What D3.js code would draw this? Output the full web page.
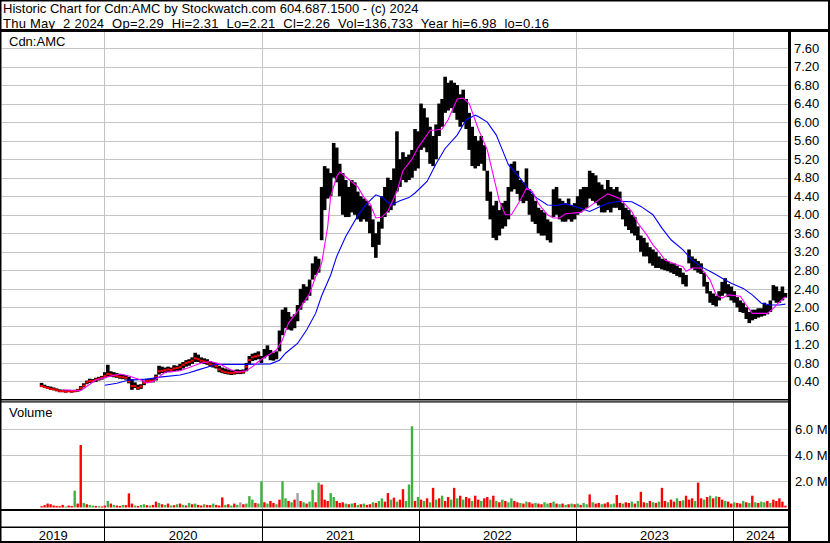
<!DOCTYPE html>
<html><head><meta charset="utf-8">
<script src="https://cdn.jsdelivr.net/npm/d3@7"></script>
<style>
html,body{margin:0;padding:0;background:#fff}
svg{display:block}
text{font-family:"Liberation Sans",Arial,sans-serif;font-size:13px;fill:#000}
</style></head><body>
<svg id="c" width="830" height="543"></svg>
<script>
// ---------- data ----------
const title1 = "Historic Chart for Cdn:AMC by Stockwatch.com 604.687.1500 - (c) 2024";
const title2 = "Thu May  2 2024  Op=2.29  Hi=2.31  Lo=2.21  Cl=2.26  Vol=136,733  Year hi=6.98  lo=0.16";
const symbolLabel = "Cdn:AMC";
const volumeLabel = "Volume";
const firstWeek = new Date(2019, 7, 8);   // one entry per week from here
const weekHigh = [
 0.37,0.33,0.30,0.29,0.27,0.25,0.23,0.22,0.21,0.22,0.21,0.22,0.24,0.30,0.36,0.42,0.46,0.45,0.48,0.50,0.52,
 0.60,0.76,0.62,0.60,0.58,0.56,0.55,0.54,0.50,0.45,0.38,0.33,0.34,0.42,0.46,0.45,0.47,0.55,0.74,0.72,0.70,0.72,0.70,0.75,0.74,0.78,0.82,0.86,0.88,0.92,1.02,0.98,0.92,0.90,0.88,0.84,0.82,0.80,0.74,0.70,0.68,0.66,0.64,0.65,0.66,0.65,0.66,0.80,0.95,1.00,1.02,1.05,
 0.95,1.10,1.18,1.08,1.02,1.05,1.50,1.95,2.00,1.90,1.80,1.85,2.05,2.40,2.50,2.45,2.60,2.95,3.10,3.05,4.60,5.05,5.00,4.90,5.55,5.45,5.10,4.90,4.75,4.60,4.75,4.70,4.50,4.40,4.35,4.30,4.20,3.90,3.60,3.85,4.40,4.60,4.80,4.75,5.00,5.80,5.20,5.35,5.25,5.30,5.40,5.85,
 5.80,6.40,6.30,6.10,5.90,5.70,5.95,6.40,6.50,6.98,6.85,6.90,6.85,6.80,6.60,6.70,6.50,6.20,5.90,5.70,5.60,5.70,5.50,4.95,4.50,4.20,4.30,4.10,4.25,4.30,4.60,5.10,5.15,4.95,4.75,4.70,5.00,4.55,4.45,4.30,4.15,4.10,4.05,3.90,3.85,4.55,4.60,4.35,4.30,4.25,4.35,4.20,
 4.25,4.40,4.55,4.60,4.60,4.95,4.90,4.85,4.70,4.65,4.55,4.75,4.60,4.55,4.60,4.50,4.25,4.15,4.10,4.00,3.95,3.75,3.55,3.50,3.40,3.30,3.25,3.20,3.10,3.05,3.05,3.00,2.95,2.95,2.90,2.85,2.75,2.70,3.25,3.10,3.05,3.00,2.95,2.75,2.55,2.35,2.30,2.25,2.35,2.55,2.63,2.50,
 2.45,2.35,2.22,2.15,2.10,2.00,1.90,1.95,1.95,1.98,1.98,2.10,2.05,2.15,2.48,2.45,2.35,2.45,2.31
];
const weekLow = [
 0.28,0.26,0.24,0.22,0.21,0.19,0.17,0.17,0.16,0.17,0.16,0.17,0.18,0.22,0.27,0.34,0.37,0.38,0.39,0.42,0.44,
 0.47,0.50,0.50,0.49,0.48,0.46,0.45,0.44,0.36,0.22,0.26,0.22,0.24,0.32,0.37,0.38,0.38,0.42,0.55,0.58,0.58,0.60,0.60,0.62,0.63,0.64,0.68,0.72,0.74,0.78,0.82,0.82,0.80,0.78,0.76,0.72,0.70,0.68,0.60,0.58,0.56,0.55,0.54,0.55,0.56,0.56,0.57,0.62,0.78,0.84,0.86,0.88,
 0.80,0.90,0.95,0.86,0.85,0.88,1.05,1.40,1.55,1.52,1.50,1.55,1.70,1.95,2.10,2.15,2.25,2.60,2.70,2.75,3.45,4.10,4.35,4.40,4.80,4.70,4.40,4.00,3.95,3.95,4.05,4.00,3.90,3.85,3.90,3.85,3.60,3.30,3.07,3.35,3.70,3.95,4.05,4.10,4.20,4.50,4.60,4.75,4.70,4.75,4.80,4.95,
 5.00,5.40,5.45,5.35,5.10,5.05,5.20,5.70,5.90,6.20,6.25,6.30,6.20,6.05,5.90,6.00,5.85,5.40,5.05,5.00,5.05,5.10,4.95,4.30,3.90,3.50,3.45,3.55,3.70,3.75,3.90,4.50,4.55,4.45,4.30,4.25,4.30,4.00,3.85,3.80,3.60,3.55,3.55,3.45,3.40,3.95,4.00,3.90,3.85,3.85,3.90,3.85,
 3.90,4.00,4.05,4.10,4.15,4.35,4.30,4.25,4.20,4.05,4.05,4.10,4.05,4.15,4.15,4.10,3.90,3.75,3.67,3.60,3.55,3.45,3.20,3.10,3.10,2.95,2.90,2.85,2.85,2.82,2.80,2.78,2.75,2.72,2.68,2.65,2.50,2.45,2.95,2.85,2.80,2.75,2.72,2.45,2.30,2.10,2.05,2.02,2.15,2.25,2.30,2.22,
 2.15,2.10,2.00,1.90,1.88,1.75,1.66,1.72,1.75,1.78,1.80,1.82,1.85,1.90,2.15,2.10,2.10,2.15,2.21
];
// closing levels marked in red for the low-priced 2019-2020 stretch (weeks 0..72)
const weekCloseEarly = [
 0.30,0.28,0.26,0.24,0.23,0.21,0.19,0.19,0.18,0.19,0.18,0.19,0.21,0.26,0.31,0.38,0.41,0.41,0.44,0.46,0.48,
 0.52,0.56,0.55,0.53,0.52,0.50,0.49,0.48,0.40,0.30,0.30,0.26,0.29,0.37,0.41,0.41,0.42,0.50,0.62,0.63,0.64,0.66,0.65,0.68,0.69,0.71,0.76,0.80,0.82,0.85,0.90,0.88,0.85,0.83,0.81,0.77,0.75,0.73,0.66,0.62,0.60,0.59,0.58,0.59,0.60,0.60,0.61,0.72,0.86,0.92,0.94,0.96
];
// volume in thousands of shares, colour r = down, g = up, x = unchanged
const weekVolume = [
 100,180,300,250,150,120,100,200,80,150,120,1280,300,4770,350,250,200,150,120,100,80,
 150,500,300,200,150,120,200,180,1080,300,150,120,200,250,180,150,200,450,350,250,200,300,150,180,250,300,200,150,350,250,300,200,150,250,200,180,300,200,150,770,200,250,150,300,200,400,250,300,870,600,350,300,
 2000,400,300,500,350,250,600,2000,700,500,400,600,1100,500,400,300,450,1350,400,1900,1750,600,500,1100,800,500,350,400,300,250,300,350,200,250,300,200,250,400,350,500,700,450,1100,600,750,450,600,1400,500,1750,6200,500,
 800,600,500,700,400,1500,600,700,900,500,800,600,1500,700,900,600,800,700,500,900,600,500,700,800,600,900,500,400,600,500,400,700,500,400,350,300,450,400,300,350,300,250,400,300,350,450,300,250,300,200,250,300,
 250,300,200,350,250,1000,400,300,350,250,300,400,250,300,950,350,300,400,350,450,300,500,1200,400,350,500,400,350,450,1500,500,400,600,450,700,500,550,900,600,700,500,1900,700,600,800,900,700,850,800,600,500,450,
 300,400,350,300,500,400,350,900,400,350,450,400,500,350,600,500,700,450,140
];
const weekVolColor =
 "rrrrrrrrgrrgrrgrggrgr" +
 "rgrgrrgrrrgrggrgrrgrgrgrgrgrgrgrrgrrgrrrgrgrgxrgggrg" +
 "grgrrgrggrgrxrgrggrgrrrggrrrgrgrgrgrrgrggrrgrgrrgggr" +
 "grgrgrgrgrrgrgrgrrgrrgrrgrgrgrggrrgrgrrgrrggrgrgr" + "gr" +
 "grgrggrgrrgrrggrrgrrgrgrrgrgrgrrgrrgrgrrrgrrgrgr" + "gr" +
 "rgrrgrrgrgrgrggrgrr";
// short moving average (magenta): week index -> value
const maFastWeek = [7,13,18,22,26,29,33,35,37,39,41,46,49,53,56,59,62,65,68,70,73,76,78,80,82,86,89,91,93,95,96,98,99,101,105,107,109,111,113,115,118,120,123,125,129,131,133,135,138,140,142,145,148,150,152,154,156,159,161,163,165,168,170,172,174,179,182,185,188,192,194,196,198,201,203,205,207,211,213,214,216,219,222,224,226,228,232,234,236,241,243,245,247];
const maFastVal  = [0.22,0.20,0.43,0.50,0.56,0.52,0.43,0.37,0.40,0.50,0.60,0.63,0.70,0.80,0.83,0.78,0.68,0.60,0.63,0.72,0.88,1.00,1.08,1.30,1.66,2.00,2.30,2.66,2.95,3.74,4.40,4.82,4.92,4.82,4.60,4.38,4.24,3.93,3.95,4.08,4.50,4.95,5.20,5.45,5.82,5.83,5.85,6.05,6.50,6.52,6.40,5.85,5.40,4.85,4.30,4.00,4.00,4.32,4.57,4.50,4.24,4.00,3.93,3.93,4.02,4.05,4.18,4.32,4.45,4.35,4.21,4.07,3.82,3.56,3.35,3.20,3.02,2.92,2.88,2.78,2.85,2.85,2.59,2.27,2.20,2.27,2.24,2.05,1.87,1.87,1.98,2.12,2.23];
// long moving average (blue): week index -> value
const maSlowWeek = [21,25,29,35,40,46,49,52,56,58,68,76,79,81,85,88,91,93,96,98,101,105,108,111,113,116,119,122,124,128,131,134,138,141,144,145,148,151,153,155,158,161,164,168,171,174,179,182,185,188,192,196,199,203,206,209,213,216,219,223,226,229,233,236,239,242,245,247];
const maSlowVal  = [0.32,0.36,0.43,0.45,0.50,0.54,0.59,0.65,0.73,0.77,0.77,0.78,0.86,1.01,1.22,1.51,1.87,2.25,2.70,3.10,3.53,3.98,4.24,4.43,4.38,4.21,4.30,4.37,4.47,4.72,5.10,5.43,5.72,6.05,6.15,6.12,6.00,5.72,5.40,5.08,4.86,4.61,4.38,4.21,4.20,4.24,4.14,4.07,4.16,4.25,4.29,4.28,4.18,4.00,3.71,3.46,3.24,3.02,2.88,2.74,2.63,2.52,2.41,2.27,2.09,2.05,2.05,2.07];
const priceTicks = [0.4,0.8,1.2,1.6,2.0,2.4,2.8,3.2,3.6,4.0,4.4,4.8,5.2,5.6,6.0,6.4,6.8,7.2,7.6];
const volumeTicks = [2000,4000,6000];
const volumeTickLabels = ["2.0 M","4.0 M","6.0 M"];
const years = [2019,2020,2021,2022,2023,2024];

// ---------- layout ----------
const svg = d3.select("#c");
const plotL = 2, plotR = 788;
const priceTop = 32, priceBot = 399;
const volTop = 402, volBot = 509;
const x = d3.scaleTime().domain([new Date(2019,4,8), new Date(2024,4,8)]).range([plotL, plotR]);
const yP = d3.scaleLinear().domain([0, 7.6]).range([400, 48]);
const yV = d3.scaleLinear().domain([0, 6000]).range([507.5, 428.9]);
const weekDate = i => d3.timeDay.offset(firstWeek, 7 * i);
const grid = "#c4c4c4";
const crisp = v => Math.round(v) + 0.5;

svg.append("rect").attr("width", 830).attr("height", 543).attr("fill", "#fff");

// gridlines
const g = svg.append("g");
g.selectAll(".hp").data(priceTicks).join("line")
  .attr("x1", plotL).attr("x2", plotR)
  .attr("y1", d => crisp(yP(d))).attr("y2", d => crisp(yP(d)))
  .attr("stroke", grid).attr("stroke-width", 1);
g.selectAll(".hv").data(volumeTicks).join("line")
  .attr("x1", plotL).attr("x2", plotR)
  .attr("y1", d => crisp(yV(d))).attr("y2", d => crisp(yV(d)))
  .attr("stroke", grid).attr("stroke-width", 1);
const yearStarts = years.slice(1).map(y => new Date(y, 0, 1));
g.selectAll(".vp").data(yearStarts).join("line")
  .attr("x1", d => crisp(x(d))).attr("x2", d => crisp(x(d)))
  .attr("y1", priceTop).attr("y2", priceBot)
  .attr("stroke", grid).attr("stroke-width", 1);
g.selectAll(".vv").data(yearStarts).join("line")
  .attr("x1", d => crisp(x(d))).attr("x2", d => crisp(x(d)))
  .attr("y1", volTop).attr("y2", volBot)
  .attr("stroke", grid).attr("stroke-width", 1);

// price bars (one stroke per week: low to high)
svg.append("g").selectAll("rect").data(weekHigh).join("rect")
  .attr("x", (d, i) => x(weekDate(i)) - 1.8)
  .attr("width", 3.6)
  .attr("y", (d, i) => yP(d))
  .attr("height", (d, i) => Math.max(1, yP(weekLow[i]) - yP(d)))
  .attr("fill", "#000");
// red close marks
svg.append("g").selectAll("rect").data(weekCloseEarly).join("rect")
  .attr("x", (d, i) => x(weekDate(i)) - 1.5)
  .attr("width", 3)
  .attr("y", d => yP(d) - 1)
  .attr("height", 2)
  .attr("fill", "#ff0000");

// moving averages
const line = d3.line().x(d => x(weekDate(d[0]))).y(d => yP(d[1]));
svg.append("path").attr("d", line(maSlowWeek.map((w, i) => [w, maSlowVal[i]])))
  .attr("fill", "none").attr("stroke", "#0000ff").attr("stroke-width", 1.1);
svg.append("path").attr("d", line(maFastWeek.map((w, i) => [w, maFastVal[i]])))
  .attr("fill", "none").attr("stroke", "#ff00ff").attr("stroke-width", 1.1);

// volume bars
const volCol = {r: "#ff0000", g: "#40b040", x: "#a0a0a0"};
svg.append("g").selectAll("rect").data(weekVolume).join("rect")
  .attr("x", (d, i) => x(weekDate(i)) - 1.2)
  .attr("width", 2.4)
  .attr("y", d => yV(d))
  .attr("height", d => yV(0) - yV(d))
  .attr("fill", (d, i) => volCol[weekVolColor[i] || "r"]);

// frame lines
const fr = svg.append("g").attr("fill", "#000");
fr.append("rect").attr("x", 0).attr("y", 29).attr("width", 830).attr("height", 3);       // header separator
fr.append("rect").attr("x", 0).attr("y", 399).attr("width", 789).attr("height", 1.5);    // price bottom
fr.append("rect").attr("x", 0).attr("y", 401.3).attr("width", 789).attr("height", 1.2);  // volume top
fr.append("rect").attr("x", 0).attr("y", 509).attr("width", 789).attr("height", 2);      // volume bottom
fr.append("rect").attr("x", 0).attr("y", 526.5).attr("width", 789).attr("height", 1.5);  // year row
fr.append("rect").attr("x", 788).attr("y", 30).attr("width", 3).attr("height", 513);     // right axis
// outer border
fr.append("rect").attr("x", 0).attr("y", 0).attr("width", 830).attr("height", 1.5);
fr.append("rect").attr("x", 0).attr("y", 541).attr("width", 830).attr("height", 2);
fr.append("rect").attr("x", 0).attr("y", 0).attr("width", 1.5).attr("height", 543);
fr.append("rect").attr("x", 828).attr("y", 0).attr("width", 2).attr("height", 543);
// year separators in the bottom rows
svg.append("g").selectAll("line").data(yearStarts).join("line")
  .attr("x1", d => crisp(x(d))).attr("x2", d => crisp(x(d)))
  .attr("y1", 511).attr("y2", 541)
  .attr("stroke", "#000").attr("stroke-width", 1);

// texts (runs of spaces kept as no-break spaces so they are not collapsed)
const keepSpaces = s => s.replace(/ {2,}/g, m => "\u00a0".repeat(m.length - 1) + " ");
svg.append("text").attr("x", 3).attr("y", 13).text(title1);
svg.append("text").attr("x", 3).attr("y", 28)
  .attr("textLength", 546).attr("lengthAdjust", "spacing")
  .text(keepSpaces(title2));
svg.append("text").attr("x", 9).attr("y", 46).text(symbolLabel);
svg.append("text").attr("x", 9).attr("y", 417).text(volumeLabel);

const fmt = d3.format(".2f");
svg.append("g").selectAll("text").data(priceTicks).join("text")
  .attr("x", 794).attr("y", d => yP(d) + 4.7).text(d => fmt(d));
svg.append("g").selectAll("text").data(volumeTicks).join("text")
  .attr("x", 795).attr("y", d => yV(d) + 4.7).text((d, i) => volumeTickLabels[i]);

svg.append("g").selectAll("text").data(years).join("text")
  .attr("text-anchor", "middle")
  .attr("x", y => {
    const a = Math.max(plotL, x(new Date(y, 0, 1)));
    const b = Math.min(plotR, x(new Date(y + 1, 0, 1)));
    return (a + b) / 2;
  })
  .attr("y", 539.5).text(y => y);
</script>
</body></html>
